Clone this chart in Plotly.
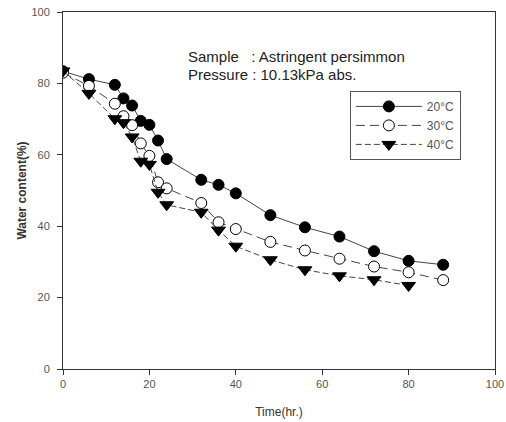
import plotly.graph_objects as go

time_20 = [0, 6, 12, 14, 16, 18, 20, 22, 24, 32, 36, 40, 48, 56, 64, 72, 80, 88]
water_20 = [83.4, 81.2, 79.6, 75.8, 73.8, 69.5, 68.4, 64.0, 58.8, 53.0, 51.6, 49.2, 43.1, 39.7, 37.1, 33.0, 30.3, 29.2]

time_30 = [0, 6, 12, 14, 16, 18, 20, 22, 24, 32, 36, 40, 48, 56, 64, 72, 80, 88]
water_30 = [83.0, 79.3, 74.3, 70.8, 68.3, 63.2, 59.7, 52.3, 50.6, 46.5, 41.1, 39.2, 35.6, 33.2, 30.9, 28.7, 27.1, 24.9]

time_40 = [0, 6, 12, 14, 16, 18, 20, 22, 24, 32, 36, 40, 48, 56, 64, 72, 80]
water_40 = [83.5, 77.2, 70.1, 69.0, 65.0, 58.2, 57.3, 49.5, 46.0, 43.9, 38.9, 34.4, 30.6, 27.8, 26.1, 25.0, 23.4]

series_names = ["20\u00b0C", "30\u00b0C", "40\u00b0C"]
tick_vals = [0, 20, 40, 60, 80, 100]

FONT = "Arial, Liberation Sans, sans-serif"
LINE_COLOR = "#444444"

fig = go.Figure()
fig.add_trace(go.Scatter(
    x=time_20, y=water_20, name=series_names[0], mode="lines+markers",
    line=dict(color=LINE_COLOR, width=1, dash="solid"),
    marker=dict(symbol="circle", size=11, color="black", line=dict(color="black", width=1)),
))
fig.add_trace(go.Scatter(
    x=time_30, y=water_30, name=series_names[1], mode="lines+markers",
    line=dict(color=LINE_COLOR, width=1, dash="9px,5px"),
    marker=dict(symbol="circle", size=11, color="white", line=dict(color="black", width=1)),
))
fig.add_trace(go.Scatter(
    x=time_40, y=water_40, name=series_names[2], mode="lines+markers",
    line=dict(color=LINE_COLOR, width=1, dash="6px,3px"),
    marker=dict(symbol="triangle-down", size=12, color="black", line=dict(color="black", width=1)),
))

axis_common = dict(
    showline=True, linecolor="#333333", linewidth=1, mirror=True,
    ticks="outside", ticklen=5, tickcolor="#333333", tickwidth=1,
    showgrid=False, zeroline=False, automargin=False,
    tickfont=dict(family=FONT, size=11, color="#555555"),
    tickvals=tick_vals,
)

fig.update_xaxes(range=[0, 100], **axis_common,
                 title=dict(text="Time(hr.)", font=dict(family=FONT, size=12, color="#333333"), standoff=18))
fig.update_yaxes(range=[0, 100], **axis_common, ticklabelstandoff=5,
                 title=dict(text="<b>Water content(%)</b>", font=dict(family=FONT, size=12, color="#333333"), standoff=2))

fig.add_annotation(x=28.5, y=87.4, xref="x", yref="y", xanchor="left", yanchor="middle",
                   text="Sample\u00a0\u00a0\u00a0: Astringent persimmon", showarrow=False,
                   font=dict(family=FONT, size=15, color="#222222"))
fig.add_annotation(x=28.5, y=82.4, xref="x", yref="y", xanchor="left", yanchor="middle",
                   text="Pressure : 10.13kPa abs.", showarrow=False,
                   font=dict(family=FONT, size=15, color="#222222"))

fig.update_layout(
    width=506, height=422,
    margin=dict(l=63, r=11, t=12, b=53),
    paper_bgcolor="white", plot_bgcolor="white",
    font=dict(family=FONT, color="#333333"),
    legend=dict(
        x=0.664, y=0.779, xanchor="left", yanchor="top",
        bordercolor="#555555", borderwidth=1, bgcolor="white",
        font=dict(family=FONT, size=12, color="#555555"),
        itemwidth=66, tracegroupgap=0,
    ),
)

fig.write_html(
    "out.html",
    config={"displayModeBar": False},
    post_script="document.body.style.margin='0';document.body.style.padding='0';document.body.style.overflow='hidden';",
)
